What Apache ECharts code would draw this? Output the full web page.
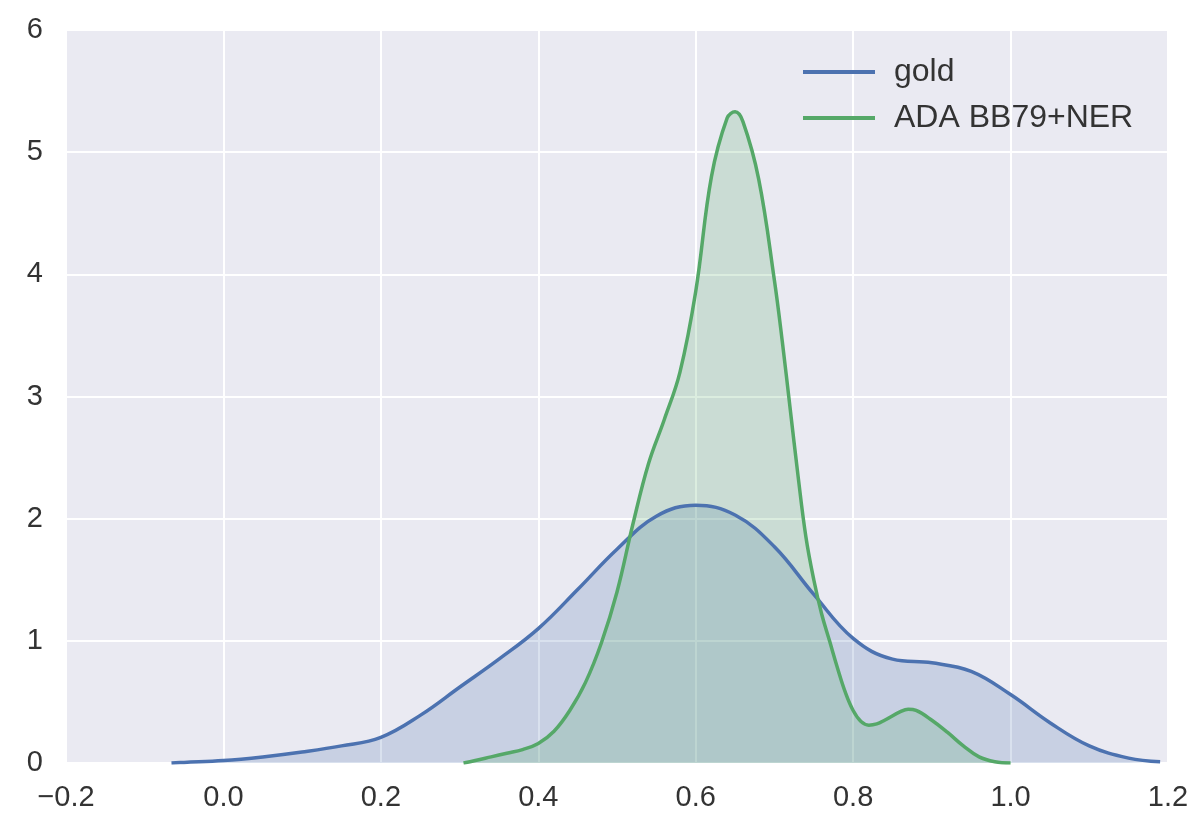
<!DOCTYPE html>
<html>
<head>
<meta charset="utf-8">
<script src="https://cdn.jsdelivr.net/npm/echarts@6/dist/echarts.min.js"></script>
<style>html,body{margin:0;padding:0;background:#fff;}#c{width:1197px;height:814px;}</style>
</head>
<body>
<div id="c"></div>
<script>
const seriesNames = ['gold', 'ADA BB79+NER'];
const goldX = [-0.066, -0.05, 0.0, 0.05, 0.1, 0.15, 0.2, 0.25, 0.3, 0.35, 0.4, 0.45, 0.5, 0.55, 0.6, 0.65, 0.7, 0.75, 0.8, 0.85, 0.9, 0.95, 1.0, 1.05, 1.1, 1.15, 1.19];
const goldY = [0.0, 0.005, 0.02, 0.05, 0.09, 0.14, 0.21, 0.39, 0.62, 0.85, 1.1, 1.42, 1.75, 2.02, 2.11, 2.03, 1.77, 1.38, 1.02, 0.85, 0.82, 0.75, 0.56, 0.33, 0.14, 0.04, 0.01];
const nerX = [0.305, 0.32, 0.34, 0.36, 0.38, 0.40, 0.42, 0.44, 0.46, 0.48, 0.50, 0.52, 0.54, 0.56, 0.58, 0.60, 0.62, 0.64, 0.65, 0.66, 0.68, 0.70, 0.71, 0.72, 0.73, 0.74, 0.75, 0.76, 0.77, 0.78, 0.79, 0.80, 0.81, 0.82, 0.83, 0.84, 0.86, 0.87, 0.88, 0.90, 0.92, 0.94, 0.96, 0.98, 1.0];
const nerY = [0.0, 0.02, 0.05, 0.08, 0.11, 0.16, 0.26, 0.43, 0.66, 0.98, 1.4, 1.95, 2.45, 2.81, 3.2, 3.86, 4.8, 5.28, 5.33, 5.25, 4.78, 3.95, 3.45, 2.9, 2.35, 1.85, 1.5, 1.22, 1.0, 0.78, 0.58, 0.43, 0.34, 0.31, 0.32, 0.35, 0.42, 0.44, 0.43, 0.35, 0.25, 0.14, 0.05, 0.01, 0.0];
const xTicks = { min: -0.2, max: 1.2, interval: 0.2 };
const yTicks = { min: 0, max: 6, interval: 1 };

const pairs = (xs, ys) => xs.map((x, i) => [x, ys[i]]);
const chart = echarts.init(document.getElementById('c'), null, { renderer: 'canvas' });
const txt = { color: '#333333', fontSize: 29, fontFamily: 'Liberation Sans, Arial, sans-serif' };
chart.setOption({
  animation: false,
  grid: { left: 66, right: 29, top: 30, bottom: 51, show: true, backgroundColor: '#eaeaf2', borderWidth: 0 },
  legend: {
    left: 798, top: 50, orient: 'vertical', itemGap: 12, itemWidth: 72, itemHeight: 4, icon: 'rect',
    textStyle: Object.assign({}, txt, { fontSize: 32, lineHeight: 34, padding: [0, 0, 0, 14] }),
    data: seriesNames
  },
  xAxis: {
    type: 'value', min: xTicks.min, max: xTicks.max, interval: xTicks.interval,
    axisLine: { show: false }, axisTick: { show: false },
    splitLine: { show: true, lineStyle: { color: '#ffffff', width: 2 } },
    axisLabel: Object.assign({}, txt, { margin: 20, formatter: v => { const s = (Math.round(v * 10) / 10).toFixed(1); return s.replace('-', '\u2212'); } })
  },
  yAxis: {
    type: 'value', min: yTicks.min, max: yTicks.max, interval: yTicks.interval,
    axisLine: { show: false }, axisTick: { show: false },
    splitLine: { show: true, lineStyle: { color: '#ffffff', width: 2 } },
    axisLabel: Object.assign({}, txt, { margin: 23, padding: [0, 0, 6, 0] })
  },
  series: [
    { name: seriesNames[0], type: 'line', data: pairs(goldX, goldY), smooth: 0.4, showSymbol: false,
      lineStyle: { color: '#4c72b0', width: 3.5 }, itemStyle: { color: '#4c72b0' },
      areaStyle: { color: 'rgba(76,114,176,0.3)', origin: 'start' } },
    { name: seriesNames[1], type: 'line', data: pairs(nerX, nerY), smooth: 0.4, showSymbol: false,
      lineStyle: { color: '#55a868', width: 3.5 }, itemStyle: { color: '#55a868' },
      areaStyle: { color: 'rgba(85,168,104,0.3)', origin: 'start' } }
  ]
});
</script>
</body>
</html>
